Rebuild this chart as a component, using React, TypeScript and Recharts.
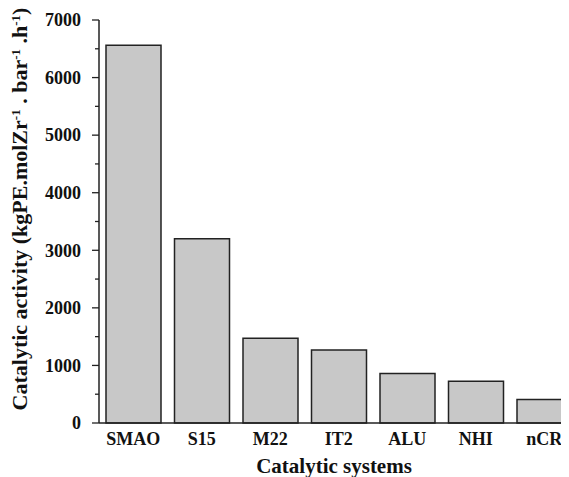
import { BarChart, Bar, XAxis, YAxis } from "recharts";

const systems = ["SMAO", "S15", "M22", "IT2", "ALU", "NHI", "nCR"];
const activity = [6560, 3200, 1470, 1270, 860, 725, 410];
const yTicks = [0, 500, 1000, 1500, 2000, 2500, 3000, 3500, 4000, 4500, 5000, 5500, 6000, 6500, 7000];

const data = systems.map((name, i) => ({ name, activity: activity[i] }));

const ink = "#222";
const font = "'Liberation Serif', 'Times New Roman', serif";

function YTick({ x, y, payload }: any) {
  const major = payload.value % 1000 === 0;
  return (
    <g>
      <line x1={x - (major ? 7 : 4)} x2={x} y1={y} y2={y} stroke={ink} strokeWidth={1.3} />
      {major && (
        <text
          x={x - 18}
          y={y}
          dy="0.35em"
          textAnchor="end"
          fontFamily={font}
          fontWeight="bold"
          fontSize={18}
          fill="#111"
        >
          {payload.value}
        </text>
      )}
    </g>
  );
}

function YTitle() {
  const sup = { baselineShift: "super", fontSize: 13 } as any;
  return (
    <text
      transform="translate(19, 201) rotate(-90)"
      textAnchor="middle"
      fontFamily={font}
      fontWeight="bold"
      fontSize={22}
      fill="#111"
    >
      Catalytic activity (kgPE.molZr
      <tspan style={sup}>-1</tspan>
      <tspan> . bar</tspan>
      <tspan style={sup}>-1</tspan>
      <tspan> .h</tspan>
      <tspan style={sup}>-1</tspan>
      <tspan>)</tspan>
    </text>
  );
}

function XTitle({ viewBox }: any) {
  return (
    <text
      x={viewBox.x + 235}
      y={465}
      textAnchor="middle"
      fontFamily={font}
      fontWeight="bold"
      fontSize={21}
      fill="#111"
    >
      Catalytic systems
    </text>
  );
}

export default function App() {
  return (
    <div style={{ width: 561, height: 469, overflow: "hidden" }}>
      <BarChart
        width={575}
        height={469}
        data={data}
        margin={{ top: 12, right: 4.5, left: 0, bottom: 0 }}
      >
        <XAxis
          dataKey="name"
          height={54}
          tickLine={false}
          tickSize={0}
          tickMargin={9}
          axisLine={{ stroke: ink, strokeWidth: 1.5 }}
          tick={{ fontFamily: font, fontWeight: "bold", fontSize: 18, fill: "#111" }}
          interval={0}
          label={<XTitle />}
        />
        <YAxis
          width={91}
          domain={[0, 7000]}
          ticks={yTicks}
          interval={0}
          tickLine={false}
          tickSize={0}
          tickMargin={0}
          axisLine={{ stroke: ink, strokeWidth: 1.5 }}
          tick={<YTick />}
          label={<YTitle />}
        />
        <Bar
          dataKey="activity"
          barSize={55}
          fill="#c8c8c8"
          stroke={ink}
          strokeWidth={1.5}
          isAnimationActive={false}
        />
      </BarChart>
    </div>
  );
}
